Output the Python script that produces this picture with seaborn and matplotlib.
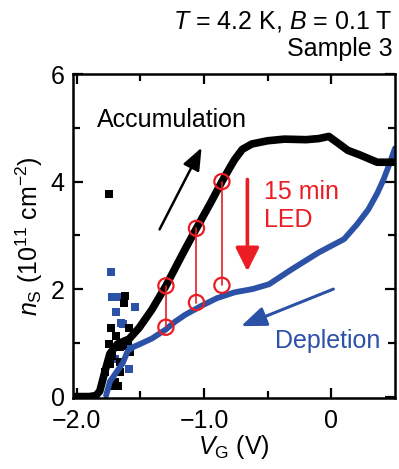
import numpy as np
import pandas as pd
import matplotlib
matplotlib.use("Agg")
import matplotlib.pyplot as plt
import seaborn as sns

# accumulation sweep (black)
acc_v = [-2.04, -1.90, -1.85, -1.82, -1.78, -1.74, -1.68, -1.59, -1.51, -1.41, -1.30,
         -1.15, -1.06, -0.95, -0.86, -0.80, -0.76, -0.70, -0.625, -0.50, -0.37, -0.20,
         -0.10, -0.02, 0.05, 0.13, 0.22, 0.30, 0.36, 0.42, 0.50]
acc_n = [0.0, 0.0, 0.02, 0.10, 0.46, 0.80, 0.98, 1.07, 1.28, 1.62, 2.06,
         2.74, 3.13, 3.60, 4.00, 4.25, 4.41, 4.60, 4.70, 4.76, 4.79, 4.78,
         4.80, 4.84, 4.72, 4.58, 4.50, 4.42, 4.36, 4.36, 4.36]

# depletion sweep after LED (blue)
dep_v = [-1.77, -1.74, -1.69, -1.64, -1.60, -1.55, -1.51, -1.41, -1.30, -1.23, -1.15,
         -1.02, -0.90, -0.76, -0.62, -0.49, -0.31, -0.10, 0.10, 0.20, 0.29, 0.36,
         0.41, 0.46, 0.50]
dep_n = [0.02, 0.28, 0.45, 0.62, 0.85, 0.93, 0.97, 1.08, 1.25, 1.39, 1.52,
         1.69, 1.83, 1.94, 2.00, 2.09, 2.37, 2.68, 2.93, 3.20, 3.48, 3.78,
         4.04, 4.35, 4.62]

# noisy points near threshold
acc_noise_v = [-1.75, -1.62, -1.63, -1.73, -1.59, -1.69, -1.75, -1.66, -1.60, -1.58,
               -1.72, -1.74, -1.66, -1.78, -1.66, -1.70, -1.73, -1.64, -1.68]
acc_noise_n = [3.76, 1.87, 1.74, 1.28, 1.28, 1.13, 0.98, 0.92, 1.04, 0.83,
               0.76, 0.61, 0.65, 0.46, 0.46, 0.28, 0.19, 0.95, 0.20]
dep_noise_v = [-1.73, -1.72, -1.68, -1.54, -1.69, -1.65, -1.60, -1.59, -1.70, -1.64]
dep_noise_n = [2.31, 1.85, 1.85, 1.67, 1.57, 1.37, 0.98, 0.52, 0.70, 1.35]

# before/after LED markers
led_v = [-1.30, -1.06, -0.86]
led_before = [2.06, 3.13, 4.00]
led_after = [1.29, 1.75, 2.07]

blue = "#2b52a6"
red = "#ec1c24"

sns.set_style("ticks")
plt.rcParams["font.family"] = ["Liberation Sans", "DejaVu Sans"]
plt.rcParams["mathtext.fontset"] = "custom"
plt.rcParams["mathtext.rm"] = "Liberation Sans"
plt.rcParams["mathtext.it"] = "Liberation Sans:italic"
plt.rcParams["font.size"] = 18
for k in ["text.color", "axes.labelcolor", "xtick.color", "ytick.color",
          "axes.edgecolor"]:
    plt.rcParams[k] = "black"

fig = plt.figure(figsize=(3.99, 4.69), dpi=100)
ax = fig.add_axes([0.183, 0.151, 0.807, 0.691])

acc = pd.DataFrame({"V": acc_v, "n": acc_n})
dep = pd.DataFrame({"V": dep_v, "n": dep_n})

sns.lineplot(data=dep, x="V", y="n", color=blue, lw=4.2, sort=False, ax=ax)
sns.scatterplot(x=dep_noise_v, y=dep_noise_n, marker="s", s=30, color=blue,
                linewidth=0, ax=ax)
sns.lineplot(data=acc, x="V", y="n", color="black", lw=5.5, sort=False, ax=ax)
sns.scatterplot(x=acc_noise_v, y=acc_noise_n, marker="s", s=36, color="black",
                linewidth=0, ax=ax)

for v, a, b in zip(led_v, led_before, led_after):
    ax.plot([v, v], [a, b], color=red, lw=1.2, zorder=5)
ax.scatter(led_v + led_v, led_before + led_after, s=120, facecolors="none",
           edgecolors=red, linewidths=1.6, zorder=6)

# arrows
ax.annotate("", xy=(-1.02, 4.63), xytext=(-1.35, 3.11),
            arrowprops=dict(arrowstyle="-|>,head_length=0.75,head_width=0.3",
                            color="black", lw=1.8, shrinkA=0, shrinkB=0))
ax.annotate("", xy=(-0.71, 1.31), xytext=(0.016, 2.0),
            arrowprops=dict(arrowstyle="-|>,head_length=0.85,head_width=0.33",
                            color=blue, lw=2.2, shrinkA=0, shrinkB=0))
ax.annotate("", xy=(-0.66, 2.33), xytext=(-0.66, 4.04),
            arrowprops=dict(arrowstyle="-|>,head_length=0.8,head_width=0.4",
                            color=red, lw=2.6, shrinkA=0, shrinkB=0))

ax.text(-1.84, 5.15, "Accumulation", fontsize=18, va="center", ha="left")
ax.text(-0.53, 3.55, "15 min\nLED", fontsize=18, color=red, va="center",
        ha="left", linespacing=1.2)
ax.text(-0.445, 1.04, "Depletion", fontsize=18, color=blue, va="center", ha="left")

ax.set_xlim(-2.03, 0.50)
ax.set_ylim(-0.03, 6.0)
ax.set_xticks([-2.0, -1.0, 0.0])
ax.set_xticklabels(["\u22122.0", "\u22121.0", "0"])
ax.set_xticks([-1.5, -0.5], minor=True)
ax.set_yticks([0, 2, 4, 6])
ax.set_yticks([1, 3, 5], minor=True)
ax.tick_params(which="both", direction="in", top=True, right=True,
               width=1.6, labelsize=18)
ax.tick_params(axis="x", which="major", pad=8)
ax.tick_params(axis="y", which="major", pad=6)
ax.tick_params(which="major", length=7)
ax.tick_params(which="minor", length=5)
for s in ax.spines.values():
    s.set_linewidth(1.8)

ax.set_xlabel(r"$V_{\mathrm{G}}$ (V)", fontsize=18, labelpad=0)
ax.set_ylabel(r"$n_{\mathrm{S}}$ (10$^{11}$ cm$^{-2}$)", fontsize=18, labelpad=4)

fig.text(0.983, 0.940, r"$T$ = 4.2 K, $B$ = 0.1 T", ha="right", va="baseline",
         fontsize=18)
fig.text(0.983, 0.881, "Sample 3", ha="right", va="baseline", fontsize=18)

fig.savefig("out.png", dpi=100)
